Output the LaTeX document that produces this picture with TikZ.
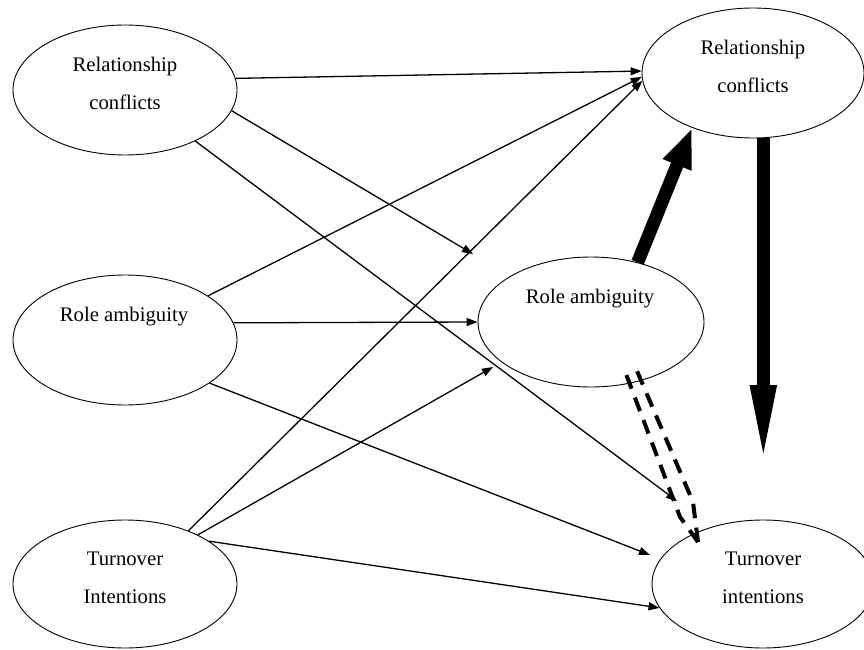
\documentclass[tikz,border=0pt]{standalone}
\usepackage{fontspec}
\setmainfont{Liberation Serif}
\usetikzlibrary{arrows.meta,shapes.geometric,calc}
\begin{document}
\begin{tikzpicture}[x=1pt,y=-1pt,
  ell/.style={draw, ellipse, line width=0.9pt, inner sep=0pt},
  lbl/.style={anchor=base, inner sep=0pt, font=\fontsize{20.7}{24}\selectfont},
  thinarrow/.style={line width=1.3pt, -{Triangle[length=11pt,width=8pt]}},
  thickarrow/.style={line width=13pt},
  dashline/.style={line width=4pt, dash pattern=on 14.5pt off 9.5pt}]
\useasboundingbox (0,0) rectangle (864,650);
% ellipses
\node[ell, minimum width=224pt, minimum height=130pt] (A) at (125,90) {};
\node[ell, minimum width=224pt, minimum height=130pt] (B) at (125,340) {};
\node[ell, minimum width=224pt, minimum height=128pt] (C) at (125,584) {};
\node[ell, minimum width=222pt, minimum height=130pt] (D) at (753,73) {};
\node[ell, minimum width=226pt, minimum height=130pt] (E) at (591,322) {};
\node[ell, minimum width=222pt, minimum height=128pt] (F) at (763,584) {};
% labels
\node[lbl] (tA1) at (125,72) {Relationship};
\node[lbl] (tA2) at (125,110) {conflicts};
\node[lbl] (tB) at (124,321) {Role ambiguity};
\node[lbl] (tC1) at (125,565) {Turnover};
\node[lbl] (tC2) at (125,603) {Intentions};
\node[lbl] (tD1) at (753,55) {Relationship};
\node[lbl] (tD2) at (753,93) {conflicts};
\node[lbl] (tE) at (590,303) {Role ambiguity};
\node[lbl] (tF1) at (763,565) {Turnover};
\node[lbl] (tF2) at (763,603) {intentions};
% free ends
\coordinate (p2) at (473,254);
\coordinate (p3) at (677,501);
\coordinate (p6) at (650,555);
\coordinate (p8) at (493,367);
\coordinate (p11) at (763,468);
\coordinate (qL0) at (626,374);
\coordinate (qL1) at (680,517);
\coordinate (qR0) at (637,371);
\coordinate (qR1) at (693,502);
\coordinate (p12) at (698,542);
% thin arrows
\draw[thinarrow] (A.6.6) -- (D.179);
\draw[thinarrow] (A.-11) -- (p2);
\draw[thinarrow] (A.-36.4) -- (p3);
\draw[thinarrow] (B.28.8) -- (D.182.5);
\draw[thinarrow] (B.9.6) -- (E.180);
\draw[thinarrow] (B.-27) -- (p6);
\draw[thinarrow] (C.40.7) -- (D.184.6);
\draw[thinarrow] (C.34.5) -- (p8);
\draw[thinarrow] (C.27.3) -- (F.193.4);
% thick arrows
\draw[thickarrow, -{Triangle[length=40pt,width=28pt]}] (E.52.7) -- (D.222.4);
\draw[thickarrow, -{Triangle[length=83pt,width=23pt]}] (D.-81.2) -- (D.-81.2 |- p11);
% double dashed arrow (drawn from the tip so that dashes meet at the tip)
\draw[dashline] (p12) -- (qL1) -- (qL0);
\draw[dashline] (p12) -- (qR1) -- (qR0);
\end{tikzpicture}
\end{document}
